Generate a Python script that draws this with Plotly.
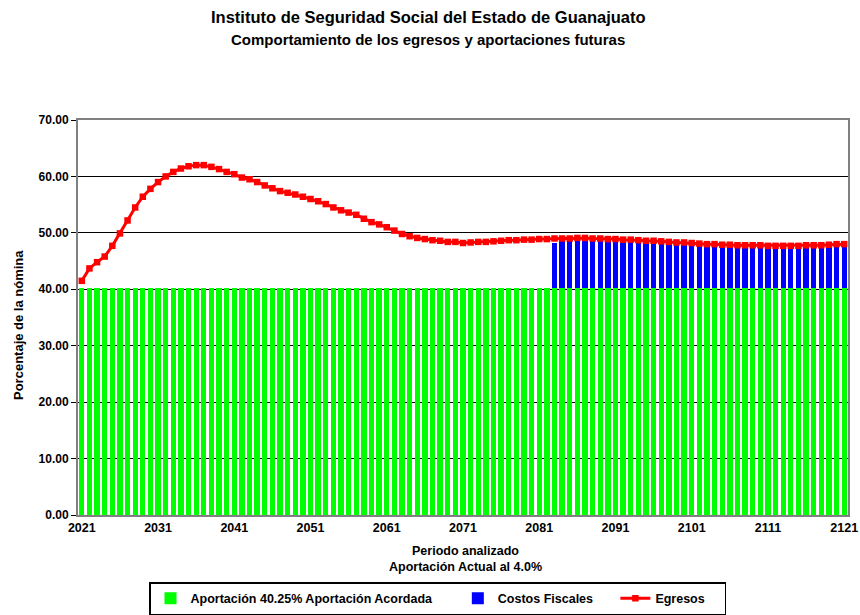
import plotly.graph_objects as go

years = list(range(2021, 2122))
aportacion = [40.25] * len(years)

egresos = [
    41.5, 43.7, 44.8, 45.8, 47.7, 49.9, 52.2, 54.5, 56.4, 57.8,
    59.0, 60.0, 60.8, 61.4, 61.8, 62.0, 62.0, 61.7, 61.3, 60.8,
    60.4, 59.8, 59.5, 59.0, 58.4, 57.9, 57.4, 57.1, 56.8, 56.4,
    56.0, 55.6, 55.1, 54.5, 54.0, 53.6, 53.2, 52.5, 51.9, 51.5,
    51.0, 50.4, 49.8, 49.4, 49.1, 48.9, 48.7, 48.6, 48.4, 48.4,
    48.2, 48.3, 48.4, 48.4, 48.5, 48.6, 48.7, 48.7, 48.8, 48.8,
    48.9, 48.9, 49.0, 49.0, 49.0, 49.1, 49.1, 49.0, 49.0, 48.9,
    48.9, 48.8, 48.8, 48.7, 48.6, 48.6, 48.5, 48.4, 48.3, 48.3,
    48.2, 48.1, 48.0, 48.0, 47.9, 47.9, 47.8, 47.8, 47.8, 47.8,
    47.7, 47.7, 47.7, 47.7, 47.7, 47.8, 47.8, 47.8, 47.9, 48.0,
    48.0,
]

costos_years = list(range(2083, 2122))
costos_fiscales = [
    8.0, 8.4, 8.4, 8.5, 8.5, 8.4, 8.4, 8.3, 8.3, 8.2,
    8.2, 8.1, 8.0, 8.0, 7.9, 7.8, 7.7, 7.7, 7.6, 7.5,
    7.4, 7.4, 7.3, 7.3, 7.2, 7.2, 7.2, 7.2, 7.1, 7.1,
    7.1, 7.1, 7.1, 7.2, 7.2, 7.2, 7.3, 7.4, 7.4,
]

x_ticks = list(range(2021, 2122, 10))
y_ticks = [0, 10, 20, 30, 40, 50, 60, 70]

title_line1 = "Instituto de Seguridad Social del Estado de Guanajuato"
title_line2 = "Comportamiento de los egresos y aportaciones futuras"
x_title = "Periodo analizado<br>Aportación Actual al 4.0%"
y_title = "Porcentaje de la nómina"

FONT = "Liberation Sans"
W, H = 860, 615
ML, MR, MT, MB = 78, 12, 120, 100
PW, PH = W - ML - MR, H - MT - MB


def px_x(px):
    return (px - ML) / PW


def px_y(py):
    return (H - MB - py) / PH


NB = "\u00a0"

fig = go.Figure()
fig.add_trace(go.Bar(
    x=years, y=aportacion, name="Aportación 40.25% Aportación Acordada" + NB * 6,
    marker=dict(color="#00FF00", line=dict(width=0)),
))
fig.add_trace(go.Bar(
    x=costos_years, y=costos_fiscales, name="Costos Fiscales" + NB * 5,
    marker=dict(color="#0000FF", line=dict(width=0)),
))
fig.add_trace(go.Scatter(
    x=years, y=egresos, name="Egresos" + NB * 4, mode="lines+markers",
    line=dict(color="#FF0000", width=3),
    marker=dict(symbol="square", size=6.5, color="#FF0000"),
))

annotations = [
    dict(text=title_line1, x=px_x(428), y=px_y(17), xref="paper", yref="paper",
         xanchor="center", yanchor="middle", showarrow=False,
         font=dict(family=FONT, size=16.5, color="black", weight="bold")),
    dict(text=title_line2, x=px_x(428), y=px_y(39), xref="paper", yref="paper",
         xanchor="center", yanchor="middle", showarrow=False,
         font=dict(family=FONT, size=15, color="black", weight="bold")),
    dict(text=x_title, x=px_x(466), y=px_y(559), xref="paper", yref="paper",
         xanchor="center", yanchor="middle", showarrow=False,
         font=dict(family=FONT, size=12.5, color="black", weight="bold")),
    dict(text=y_title, x=px_x(18), y=px_y(325), xref="paper", yref="paper",
         xanchor="center", yanchor="middle", showarrow=False, textangle=-90,
         font=dict(family=FONT, size=13, color="black", weight="bold")),
]

fig.update_layout(
    width=W, height=H,
    margin=dict(l=ML, r=MR, t=MT, b=MB, autoexpand=False),
    paper_bgcolor="white", plot_bgcolor="white",
    barmode="stack", bargap=0.3,
    font=dict(family=FONT, size=12, color="black", weight="bold"),
    annotations=annotations,
    showlegend=True,
    legend=dict(
        orientation="h", x=px_x(437.5), xanchor="center", xref="paper",
        y=0.0, yanchor="bottom", yref="container",
        bordercolor="black", borderwidth=1.5, bgcolor="white",
        font=dict(family=FONT, size=12.5, color="black", weight="bold"),
        traceorder="normal", itemwidth=30, tracegroupgap=0,
    ),
)

fig.update_xaxes(
    range=[2020.5, 2121.5], tickmode="array", tickvals=x_ticks,
    ticktext=[str(v) for v in x_ticks],
    showgrid=False, zeroline=False, automargin=False,
    showline=True, linecolor="#808080", linewidth=2, mirror=True,
    ticks="", tickfont=dict(family=FONT, size=12.5, weight="bold"),
)
fig.update_yaxes(
    range=[0, 70], tickmode="array", tickvals=y_ticks,
    ticktext=[f"{v:.2f}" for v in y_ticks],
    showgrid=True, gridcolor="black", gridwidth=1, zeroline=False, automargin=False,
    showline=True, linecolor="#808080", linewidth=2, mirror=True,
    ticks="outside", ticklen=5, tickcolor="black",
    tickfont=dict(family=FONT, size=12, weight="bold"),
)

fig.write_html(
    "out.html",
    config={"displayModeBar": False},
    post_script="document.body.style.margin='0px';document.body.style.overflow='hidden';",
)
